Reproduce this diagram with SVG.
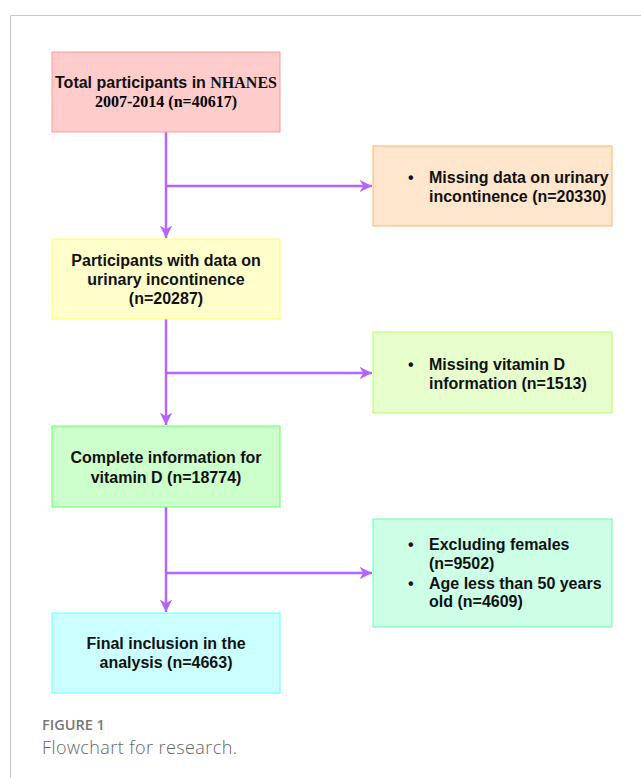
<svg xmlns="http://www.w3.org/2000/svg" width="641" height="778" viewBox="0 0 641 778">
<defs>
<style>
.t{font-family:"Liberation Sans",Arial,sans-serif;font-weight:bold;font-size:16px;fill:#111}
.s{font-family:"Liberation Serif","Times New Roman",serif;font-weight:bold;font-size:16px}
.c{text-anchor:middle}
.e{fill:none;stroke:#b266ff;stroke-width:2.5}
.cap1{font-family:"Open Sans","Liberation Sans",sans-serif;font-weight:600;font-size:14.5px;fill:#777}
.cap2{font-family:"Open Sans","Liberation Sans",sans-serif;font-weight:300;font-size:18px;fill:#666}
</style>
<marker id="ah" viewBox="0 0 10 10" refX="10" refY="5" markerWidth="5" markerHeight="5" markerUnits="strokeWidth" orient="auto">
<path d="M0,0 L10,5 L0,10 L3,5 Z" fill="#b266ff"/>
</marker>
</defs>
<rect width="641" height="778" fill="#fff"/>
<path d="M10.5,778 V15.5 H641" fill="none" stroke="#c8c8c8" stroke-width="1"/>
<g id="connectors">
<path class="e" d="M166,132 V238" marker-end="url(#ah)"/>
<path class="e" d="M166,186 H372" marker-end="url(#ah)"/>
<path class="e" d="M166,319 V425" marker-end="url(#ah)"/>
<path class="e" d="M166,373 H372" marker-end="url(#ah)"/>
<path class="e" d="M166,507 V612" marker-end="url(#ah)"/>
<path class="e" d="M166,573 H372" marker-end="url(#ah)"/>
</g>
<g id="n1">
<rect x="52" y="52" width="228" height="80" fill="#ffcccc" stroke="#ff9999"/>
<text class="t c" x="166" y="88">Total participants in <tspan class="s">NHANES</tspan></text>
<text class="s c" x="166" y="107">2007-2014 (n=40617)</text>
</g>
<g id="n2">
<rect x="373" y="146" width="239" height="80" fill="#ffe6cc" stroke="#ffb570"/>
<text class="t" x="408" y="183">•</text>
<text class="t" x="429" y="183">Missing data on urinary</text>
<text class="t" x="429" y="202">incontinence (n=20330)</text>
</g>
<g id="n3">
<rect x="52" y="239" width="228" height="80" fill="#ffffcc" stroke="#ffff66"/>
<text class="t c" x="166" y="266">Participants with data on</text>
<text class="t c" x="166" y="285">urinary incontinence</text>
<text class="t c" x="166" y="304">(n=20287)</text>
</g>
<g id="n4">
<rect x="373" y="332" width="239" height="81" fill="#e6ffcc" stroke="#b3ff66"/>
<text class="t" x="408" y="370">•</text>
<text class="t" x="429" y="370">Missing vitamin D</text>
<text class="t" x="429" y="389">information (n=1513)</text>
</g>
<g id="n5">
<rect x="52" y="426" width="228" height="81" fill="#ccffcc" stroke="#66ff66"/>
<text class="t c" x="166" y="463">Complete information for</text>
<text class="t c" x="166" y="483">vitamin D (n=18774)</text>
</g>
<g id="n6">
<rect x="373" y="519" width="239" height="108" fill="#ccffe6" stroke="#66ffb3"/>
<text class="t" x="408" y="550">•</text>
<text class="t" x="429" y="550">Excluding females</text>
<text class="t" x="429" y="569">(n=9502)</text>
<text class="t" x="408" y="589">•</text>
<text class="t" x="429" y="589">Age less than 50 years</text>
<text class="t" x="429" y="607">old (n=4609)</text>
</g>
<g id="n7">
<rect x="52" y="613" width="228" height="80" fill="#ccffff" stroke="#66ffff"/>
<text class="t c" x="166" y="649">Final inclusion in the</text>
<text class="t c" x="166" y="668">analysis (n=4663)</text>
</g>
<text class="cap1" x="42" y="730">FIGURE 1</text>
<text class="cap2" x="42" y="754" textLength="195" lengthAdjust="spacing">Flowchart for research.</text>
</svg>
